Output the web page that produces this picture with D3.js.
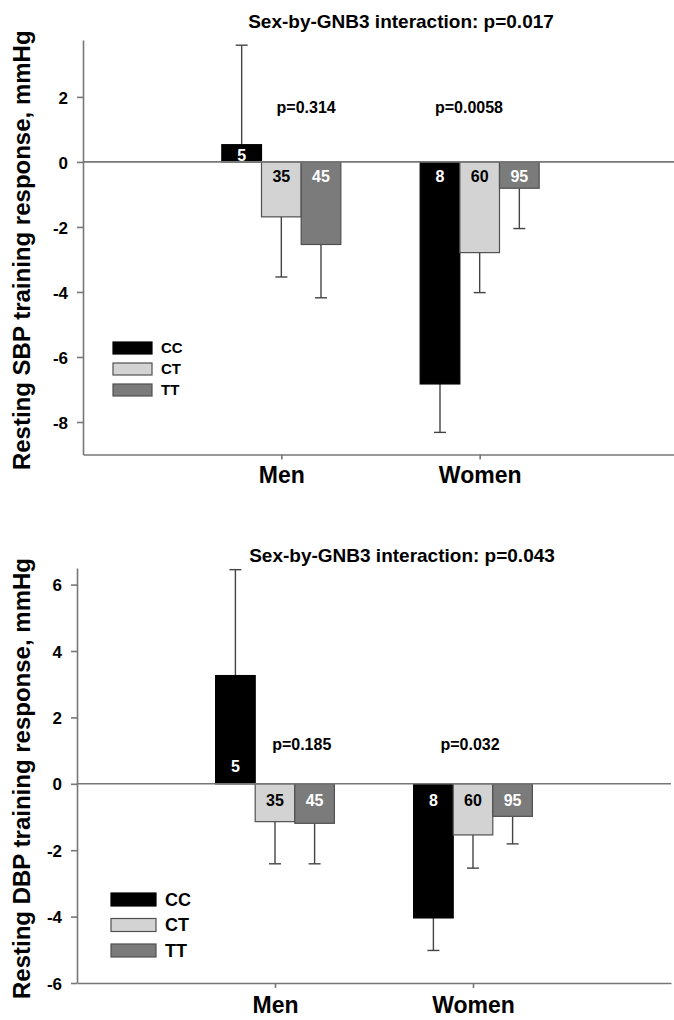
<!DOCTYPE html>
<html lang="en">
<head>
<meta charset="utf-8">
<title>GNB3 training response</title>
<script src="https://cdn.jsdelivr.net/npm/d3@7"></script>
<style>
  body { margin: 0; background: #fff; }
  text { font-family: "Liberation Sans", Arial, sans-serif; font-weight: bold; fill: #000; }
  .axis path, .axis line { stroke: #777; stroke-width: 1.6; }
</style>
</head>
<body>
<script>
// ---- data ----
const sexes = ["Men", "Women"];
const genotypes = ["CC", "CT", "TT"];
const nMen = [5, 35, 45];
const nWomen = [8, 60, 95];

// resting SBP training response (mmHg), mean and SE
const sbpMen = [0.53, -1.69, -2.54];
const sbpWomen = [-6.83, -2.79, -0.81];
const sbpErrMen = [3.06, 1.85, 1.64];
const sbpErrWomen = [1.49, 1.23, 1.24];
const sbpP = ["p=0.314", "p=0.0058"];
const sbpTicks = [-8, -6, -4, -2, 0, 2];

// resting DBP training response (mmHg), mean and SE
const dbpMen = [3.26, -1.14, -1.19];
const dbpWomen = [-4.04, -1.54, -0.98];
const dbpErrMen = [3.19, 1.27, 1.22];
const dbpErrWomen = [0.98, 1.00, 0.83];
const dbpP = ["p=0.185", "p=0.032"];
const dbpTicks = [-6, -4, -2, 0, 2, 4, 6];

const fills = { CC: "#000000", CT: "#d3d3d3", TT: "#7b7b7b" };
const labelFill = { CC: "#fff", CT: "#000", TT: "#fff" };

const W = 674, H = 1020;
const svg = d3.select("body").append("svg")
  .attr("width", W).attr("height", H);

function drawPanel(cfg) {
  const g = svg.append("g");
  const x = d3.scaleLinear().domain([0, 3]).range(cfg.xRange);
  const y = d3.scaleLinear().domain(cfg.yDomain).range(cfg.yRange);
  const bw = 0.2; // bar width in category units

  // rows: one per bar
  const rows = [];
  sexes.forEach((s, si) => {
    genotypes.forEach((gt, gi) => {
      rows.push({
        sex: s, gt: gt,
        cx: si + 1 - 1.5 * bw + gi * bw,
        v: cfg.means[si][gi],
        e: cfg.errs[si][gi],
        n: cfg.counts[si][gi]
      });
    });
  });

  // error bars (drawn away from zero)
  const eb = g.selectAll(".err").data(rows).enter().append("g")
    .attr("class", "err");
  eb.append("line")
    .attr("x1", d => x(d.cx + bw / 2)).attr("x2", d => x(d.cx + bw / 2))
    .attr("y1", d => y(d.v))
    .attr("y2", d => y(d.v + Math.sign(d.v) * d.e))
    .attr("stroke", "#444").attr("stroke-width", 1.4);
  eb.append("line")
    .attr("x1", d => x(d.cx + bw / 2) - 6).attr("x2", d => x(d.cx + bw / 2) + 6)
    .attr("y1", d => y(d.v + Math.sign(d.v) * d.e))
    .attr("y2", d => y(d.v + Math.sign(d.v) * d.e))
    .attr("stroke", "#444").attr("stroke-width", 1.4);

  // bars
  g.selectAll(".bar").data(rows).enter().append("rect")
    .attr("class", "bar")
    .attr("x", d => x(d.cx))
    .attr("width", x(bw) - x(0))
    .attr("y", d => y(Math.max(0, d.v)))
    .attr("height", d => Math.abs(y(d.v) - y(0)))
    .attr("fill", d => fills[d.gt])
    .attr("stroke", d => d.gt === "CC" ? "#000" : "#505050")
    .attr("stroke-width", 1.2);

  // sample size labels
  g.selectAll(".nlab").data(rows).enter().append("text")
    .attr("x", d => x(d.cx + bw / 2))
    .attr("y", d => d.v > 0 ? y(0) + cfg.posLabDy : y(0) + cfg.negLabDy)
    .attr("text-anchor", "middle")
    .style("font-size", "16px")
    .style("fill", d => labelFill[d.gt])
    .text(d => d.n);

  // y axis
  const yAxis = d3.axisLeft(y).tickValues(cfg.ticks).tickSize(6).tickSizeOuter(0)
    .tickFormat(d => String(d));
  const ya = g.append("g").attr("class", "axis")
    .attr("transform", `translate(${cfg.xRange[0]},0)`)
    .call(yAxis);
  ya.selectAll("text").style("font-size", "17px").attr("dy", "0.36em")
    .attr("x", -15);

  // x axis
  const xAxis = d3.axisBottom(x).tickValues([1, 2]).tickSize(5).tickSizeOuter(0)
    .tickFormat(d => sexes[d - 1]);
  const xa = g.append("g").attr("class", "axis")
    .attr("transform", `translate(0,${cfg.yRange[0]})`)
    .call(xAxis);
  xa.selectAll("text").style("font-size", "23px")
    .attr("y", cfg.xLabDy).attr("dy", 0);

  // zero line
  g.append("line")
    .attr("x1", cfg.xRange[0]).attr("x2", cfg.xRange[1])
    .attr("y1", y(0)).attr("y2", y(0))
    .attr("stroke", "#777").attr("stroke-width", 1.6);

  // p-values per sex
  g.selectAll(".plab").data(cfg.pvals).enter().append("text")
    .attr("x", (d, i) => x(cfg.pX[i]))
    .attr("y", y(cfg.pY))
    .attr("text-anchor", "middle")
    .style("font-size", "16px")
    .text(d => d);

  // title
  g.append("text")
    .attr("x", cfg.titleX).attr("y", cfg.titleY)
    .attr("text-anchor", "middle")
    .style("font-size", "19px")
    .text(cfg.title);

  // y label
  g.append("text")
    .attr("transform", `translate(30,${(cfg.yRange[0] + cfg.yRange[1]) / 2 + 3}) rotate(-90)`)
    .attr("text-anchor", "middle")
    .style("font-size", "24px")
    .text(cfg.ylabel);

  // legend
  const lg = g.append("g").attr("transform", `translate(${cfg.leg.x},${cfg.leg.y})`);
  genotypes.forEach((gt, i) => {
    lg.append("rect")
      .attr("x", 0).attr("y", i * cfg.leg.step)
      .attr("width", cfg.leg.w).attr("height", cfg.leg.h)
      .attr("fill", fills[gt])
      .attr("stroke", gt === "CC" ? "#000" : "#505050").attr("stroke-width", 1.2);
    lg.append("text")
      .attr("x", cfg.leg.w + 9)
      .attr("y", i * cfg.leg.step + cfg.leg.h / 2)
      .attr("dy", "0.36em")
      .style("font-size", cfg.leg.fs + "px")
      .text(gt);
  });
}

drawPanel({
  xRange: [83, 678], yDomain: [-9, 3.75], yRange: [454.5, 40],
  means: [sbpMen, sbpWomen], errs: [sbpErrMen, sbpErrWomen],
  counts: [nMen, nWomen], ticks: sbpTicks,
  pvals: sbpP, pX: [1.125, 1.946], pY: 1.51,
  posLabDy: -0.5, negLabDy: 20, xLabDy: 28,
  title: "Sex-by-GNB3 interaction: p=0.017", titleX: 401, titleY: 28,
  ylabel: "Resting SBP training response, mmHg",
  leg: { x: 113, y: 342, w: 39, h: 12, step: 21, fs: 15 }
});

drawPanel({
  xRange: [77, 671], yDomain: [-6, 6.5], yRange: [983, 568],
  means: [dbpMen, dbpWomen], errs: [dbpErrMen, dbpErrWomen],
  counts: [nMen, nWomen], ticks: dbpTicks,
  pvals: dbpP, pX: [1.135, 1.985], pY: 1.03,
  posLabDy: -12, negLabDy: 22, xLabDy: 30,
  title: "Sex-by-GNB3 interaction: p=0.043", titleX: 402, titleY: 562,
  ylabel: "Resting DBP training response, mmHg",
  leg: { x: 111, y: 893, w: 45, h: 13, step: 25.5, fs: 18 }
});
</script>
</body>
</html>
